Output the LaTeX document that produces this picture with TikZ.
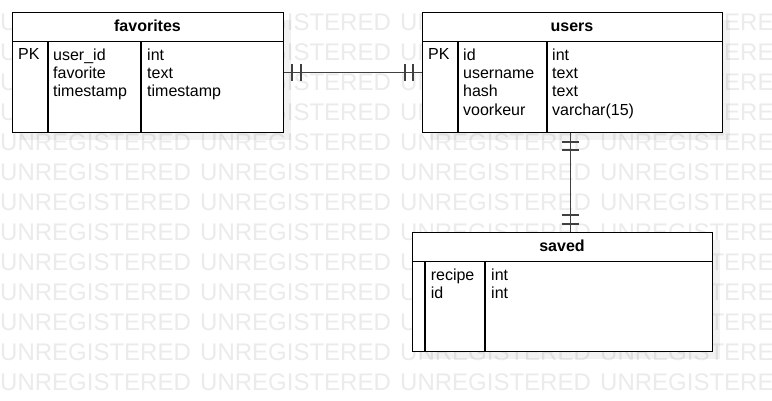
\documentclass[tikz,border=0pt]{standalone}
\usepackage{fontspec}
\setmainfont{Liberation Sans}
\usetikzlibrary{calc}
\tikzset{
  tbl/.style={draw=black, fill=white, line width=1.1pt, rectangle, anchor=north west, inner sep=0pt},
  sep/.style={draw=black, line width=1.1pt},
  shadowbox/.style={fill=black, fill opacity=0.05, draw=none},
  conn/.style={draw=black!75, line width=1.3pt},
  tick/.style={draw=black!75, line width=1.3pt},
  hdr/.style={font=\fontsize{16}{16}\selectfont\bfseries, inner sep=0pt, anchor=base},
  cell/.style={font=\fontsize{16}{18.4}\selectfont, inner sep=0pt, anchor=base west},
  wm/.style={font=\fontsize{24}{24}\selectfont, text=black!8, inner sep=0pt, anchor=base west}
}
\begin{document}
\begin{tikzpicture}[x=1pt, y=-1pt]
\useasboundingbox (0,0) rectangle (772,401);
\fill[white] (0,0) rectangle (772,401);
% watermark
\begin{scope}
\clip (0,0) rectangle (772,401);
\foreach \i in {0,1,2,3} {
  \foreach \j in {0,...,12} {
    \node[wm] (wm-\i-\j) at (200*\i, 30.7+30*\j) {UNREGISTERED};
  }
}
\end{scope}
% shadows
\fill[shadowbox] (20,20) rectangle (291,140);
\fill[shadowbox] (430,20) rectangle (730,140);
\fill[shadowbox] (420,240) rectangle (720,359);
% favorites
\node[tbl, minimum width=271pt, minimum height=120pt] (fav) at (12,12) {};
\draw[sep] (12,41.5) -- (283,41.5);
\draw[sep] (48,41.5) -- (48,132);
\draw[sep] (141,41.5) -- (141,132);
\node[hdr] (favh) at (147.5,31.7) {favorites};
\node[cell] (favpk) at (18,60) {PK};
\node[cell, align=left, anchor=north west] (favc1) at (53,48.4) {user\_id\\favorite\\timestamp};
\node[cell, align=left, anchor=north west] (favc2) at (147,48.4) {int\\text\\timestamp};
% users
\node[tbl, minimum width=300pt, minimum height=120pt] (usr) at (422,12) {};
\draw[sep] (422,41.5) -- (722,41.5);
\draw[sep] (458,41.5) -- (458,132);
\draw[sep] (547,41.5) -- (547,132);
\node[hdr] (usrh) at (572,31.7) {users};
\node[cell] (usrpk) at (428,60) {PK};
\node[cell, align=left, anchor=north west] (usrc1) at (463,48.4) {id\\username\\hash\\voorkeur};
\node[cell, align=left, anchor=north west] (usrc2) at (552,48.4) {int\\text\\text\\varchar(15)};
% saved
\node[tbl, minimum width=300pt, minimum height=119pt] (sav) at (412,232) {};
\draw[sep] (412,261.5) -- (712,261.5);
\draw[sep] (425,261.5) -- (425,351);
\draw[sep] (485,261.5) -- (485,351);
\node[hdr] (savh) at (562,251.7) {saved};
\node[cell, align=left, anchor=north west] (savc1) at (430.6,268.4) {recipe\\id};
\node[cell, align=left, anchor=north west] (savc2) at (491,268.4) {int\\int};
% connectors
\draw[conn] (fav.east) -- (usr.west);
\draw[tick] ([xshift=8pt]fav.east) ++(0,-8.5) -- ++(0,17);
\draw[tick] ([xshift=17pt]fav.east) ++(0,-8.5) -- ++(0,17);
\draw[tick] ([xshift=-9pt]usr.west) ++(0,-8.5) -- ++(0,17);
\draw[tick] ([xshift=-17pt]usr.west) ++(0,-8.5) -- ++(0,17);
\coordinate (vtop) at ([xshift=-2pt]usr.south);
\coordinate (vbot) at (vtop |- sav.north);
\draw[conn] (vtop) -- (vbot);
\draw[tick] ([yshift=-9pt]vtop) ++(-8.5,0) -- ++(17,0);
\draw[tick] ([yshift=-17pt]vtop) ++(-8.5,0) -- ++(17,0);
\draw[tick] ([yshift=17pt]vbot) ++(-8.5,0) -- ++(17,0);
\draw[tick] ([yshift=8pt]vbot) ++(-8.5,0) -- ++(17,0);
\end{tikzpicture}
\end{document}
